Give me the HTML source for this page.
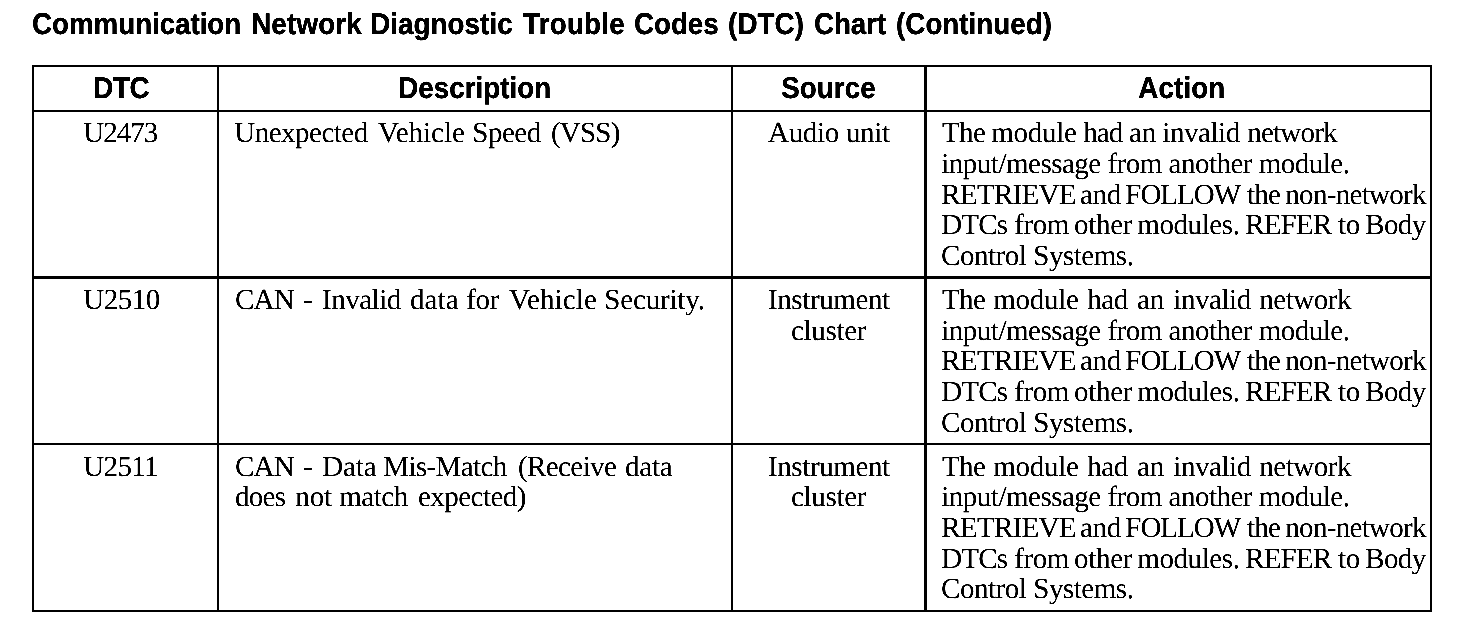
<!DOCTYPE html>
<html><head><meta charset="utf-8"><title>DTC Chart</title><style>html,body{margin:0;padding:0;background:#fff;width:1472px;height:640px;overflow:hidden}svg{display:block;filter:grayscale(1) contrast(3)}</style></head><body>
<svg width="1472" height="640" viewBox="0 0 1472 640">
<rect width="1472" height="640" fill="#fff"/>
<style>text{white-space:pre;fill:#000;text-rendering:geometricPrecision}.sa{font-family:"Liberation Sans",sans-serif;font-weight:bold;stroke:#000;stroke-width:0.35}.se{font-family:"Liberation Serif",serif;stroke:#000;stroke-width:0.12}</style>
<rect x="32" y="65" width="1400" height="2" fill="#000"/>
<rect x="32" y="110" width="1400" height="2" fill="#000"/>
<rect x="32" y="276" width="1400" height="3" fill="#000"/>
<rect x="32" y="443" width="1400" height="2" fill="#000"/>
<rect x="32" y="610" width="1400" height="2" fill="#000"/>
<rect x="32" y="65" width="2" height="547" fill="#000"/>
<rect x="217" y="65" width="2" height="547" fill="#000"/>
<rect x="731" y="65" width="2" height="547" fill="#000"/>
<rect x="924" y="65" width="3" height="547" fill="#000"/>
<rect x="1430" y="65" width="2" height="547" fill="#000"/>
<text class="sa" x="0" y="0" transform="translate(32.08,34) scale(0.925,1.0)" font-size="30" letter-spacing="-0.047">Communication</text>
<text class="sa" x="0" y="0" transform="translate(251.15,34) scale(0.925,1.0)" font-size="30" letter-spacing="0.194">Network</text>
<text class="sa" x="0" y="0" transform="translate(370.15,34) scale(0.925,1.0)" font-size="30" letter-spacing="0.076">Diagnostic</text>
<text class="sa" x="0" y="0" transform="translate(523.00,34) scale(0.925,1.0)" font-size="30" letter-spacing="0.256">Trouble</text>
<text class="sa" x="0" y="0" transform="translate(634.08,34) scale(0.925,1.0)" font-size="30" letter-spacing="-0.068">Codes</text>
<text class="sa" x="0" y="0" transform="translate(728.08,34) scale(0.925,1.0)" font-size="30" letter-spacing="0.089">(DTC)</text>
<text class="sa" x="0" y="0" transform="translate(814.08,34) scale(0.925,1.0)" font-size="30" letter-spacing="-0.148">Chart</text>
<text class="sa" x="0" y="0" transform="translate(896.08,34) scale(0.925,1.0)" font-size="30" letter-spacing="0.020">(Continued)</text>
<text class="sa" x="0" y="0" transform="translate(93.15,98) scale(0.925,1.0)" font-size="30" letter-spacing="-0.306">DTC</text>
<text class="sa" x="0" y="0" transform="translate(398.15,98) scale(0.925,1.0)" font-size="30" letter-spacing="0.046">Description</text>
<text class="sa" x="0" y="0" transform="translate(781.30,98) scale(0.925,1.0)" font-size="30" letter-spacing="0.056">Source</text>
<text class="sa" x="0" y="0" transform="translate(1138.30,98) scale(0.925,1.0)" font-size="30" letter-spacing="0.130">Action</text>
<text class="se" x="83.30" y="142" font-size="29" letter-spacing="-1.011">U2473</text>
<text class="se" x="234.30" y="142" font-size="29" letter-spacing="-0.510">Unexpected</text>
<text class="se" x="378.00" y="142" font-size="29" letter-spacing="-0.014">Vehicle</text>
<text class="se" x="472.30" y="142" font-size="29" letter-spacing="-0.493">Speed</text>
<text class="se" x="551.00" y="142" font-size="29" letter-spacing="-0.789">(VSS)</text>
<text class="se" x="768.00" y="142" font-size="29" letter-spacing="-0.312">Audio unit</text>
<text class="se" x="942.00" y="142" font-size="29" letter-spacing="-0.607">The</text>
<text class="se" x="991.30" y="142" font-size="29" letter-spacing="-0.283">module</text>
<text class="se" x="1083.30" y="142" font-size="29" letter-spacing="-0.986">had</text>
<text class="se" x="1129.00" y="142" font-size="29" letter-spacing="-0.172">an</text>
<text class="se" x="1162.30" y="142" font-size="29" letter-spacing="-0.440">invalid</text>
<text class="se" x="1247.30" y="142" font-size="29" letter-spacing="-0.805">network</text>
<text class="se" x="941.30" y="173" font-size="29" letter-spacing="-0.502">input/message from another module.</text>
<text class="se" x="941.30" y="204" font-size="29" letter-spacing="-0.718">RETRIEVE</text>
<text class="se" x="1080.00" y="204" font-size="29" letter-spacing="-0.336">and</text>
<text class="se" x="1125.30" y="204" font-size="29" letter-spacing="-1.009">FOLLOW</text>
<text class="se" x="1247.00" y="204" font-size="29" letter-spacing="-0.779">the</text>
<text class="se" x="1285.30" y="204" font-size="29" letter-spacing="-0.699">non-network</text>
<text class="se" x="941.30" y="234" font-size="29" letter-spacing="-0.867">DTCs</text>
<text class="se" x="1014.30" y="234" font-size="29" letter-spacing="-0.471">from</text>
<text class="se" x="1074.00" y="234" font-size="29" letter-spacing="-0.307">other</text>
<text class="se" x="1137.30" y="234" font-size="29" letter-spacing="-0.410">modules.</text>
<text class="se" x="1245.30" y="234" font-size="29" letter-spacing="-0.875">REFER</text>
<text class="se" x="1338.00" y="234" font-size="29" letter-spacing="-0.357">to</text>
<text class="se" x="1365.30" y="234" font-size="29" letter-spacing="-0.648">Body</text>
<text class="se" x="941.00" y="265" font-size="29" letter-spacing="-0.457">Control Systems.</text>
<text class="se" x="83.30" y="309" font-size="29" letter-spacing="-0.511">U2510</text>
<text class="se" x="235.00" y="309" font-size="29" letter-spacing="-0.793">CAN</text>
<text class="se" x="303.00" y="309" font-size="29" letter-spacing="0.000">-</text>
<text class="se" x="322.00" y="309" font-size="29" letter-spacing="-0.491">Invalid</text>
<text class="se" x="410.00" y="309" font-size="29" letter-spacing="0.090">data</text>
<text class="se" x="466.30" y="309" font-size="29" letter-spacing="-0.379">for</text>
<text class="se" x="509.00" y="309" font-size="29" letter-spacing="0.152">Vehicle</text>
<text class="se" x="604.30" y="309" font-size="29" letter-spacing="-0.170">Security.</text>
<text class="se" x="768.00" y="309" font-size="29" letter-spacing="-0.398">Instrument</text>
<text class="se" x="791.00" y="340" font-size="29" letter-spacing="-0.324">cluster</text>
<text class="se" x="942.00" y="309" font-size="29" letter-spacing="-0.607">The</text>
<text class="se" x="993.30" y="309" font-size="29" letter-spacing="-0.283">module</text>
<text class="se" x="1087.30" y="309" font-size="29" letter-spacing="-0.486">had</text>
<text class="se" x="1137.00" y="309" font-size="29" letter-spacing="-0.172">an</text>
<text class="se" x="1173.30" y="309" font-size="29" letter-spacing="-0.440">invalid</text>
<text class="se" x="1259.30" y="309" font-size="29" letter-spacing="-0.471">network</text>
<text class="se" x="941.30" y="340" font-size="29" letter-spacing="-0.502">input/message from another module.</text>
<text class="se" x="941.30" y="370" font-size="29" letter-spacing="-0.718">RETRIEVE</text>
<text class="se" x="1080.00" y="370" font-size="29" letter-spacing="-0.336">and</text>
<text class="se" x="1125.30" y="370" font-size="29" letter-spacing="-1.009">FOLLOW</text>
<text class="se" x="1247.00" y="370" font-size="29" letter-spacing="-0.779">the</text>
<text class="se" x="1285.30" y="370" font-size="29" letter-spacing="-0.699">non-network</text>
<text class="se" x="941.30" y="401" font-size="29" letter-spacing="-0.867">DTCs</text>
<text class="se" x="1014.30" y="401" font-size="29" letter-spacing="-0.471">from</text>
<text class="se" x="1074.00" y="401" font-size="29" letter-spacing="-0.307">other</text>
<text class="se" x="1137.30" y="401" font-size="29" letter-spacing="-0.410">modules.</text>
<text class="se" x="1245.30" y="401" font-size="29" letter-spacing="-0.875">REFER</text>
<text class="se" x="1338.00" y="401" font-size="29" letter-spacing="-0.357">to</text>
<text class="se" x="1365.30" y="401" font-size="29" letter-spacing="-0.648">Body</text>
<text class="se" x="941.00" y="432" font-size="29" letter-spacing="-0.457">Control Systems.</text>
<text class="se" x="83.30" y="476" font-size="29" letter-spacing="-0.667">U2511</text>
<text class="se" x="235.00" y="476" font-size="29" letter-spacing="-0.793">CAN</text>
<text class="se" x="303.00" y="476" font-size="29" letter-spacing="0.000">-</text>
<text class="se" x="322.30" y="476" font-size="29" letter-spacing="-0.157">Data</text>
<text class="se" x="383.30" y="476" font-size="29" letter-spacing="-0.621">Mis-Match</text>
<text class="se" x="518.00" y="476" font-size="29" letter-spacing="-0.596">(Receive</text>
<text class="se" x="625.00" y="476" font-size="29" letter-spacing="-0.243">data</text>
<text class="se" x="235.00" y="506" font-size="29" letter-spacing="-0.724">does</text>
<text class="se" x="295.30" y="506" font-size="29" letter-spacing="-0.150">not</text>
<text class="se" x="339.30" y="506" font-size="29" letter-spacing="-0.489">match</text>
<text class="se" x="418.00" y="506" font-size="29" letter-spacing="-0.543">expected)</text>
<text class="se" x="768.00" y="476" font-size="29" letter-spacing="-0.398">Instrument</text>
<text class="se" x="791.00" y="506" font-size="29" letter-spacing="-0.324">cluster</text>
<text class="se" x="942.00" y="476" font-size="29" letter-spacing="-0.607">The</text>
<text class="se" x="993.30" y="476" font-size="29" letter-spacing="-0.283">module</text>
<text class="se" x="1087.30" y="476" font-size="29" letter-spacing="-0.486">had</text>
<text class="se" x="1137.00" y="476" font-size="29" letter-spacing="-0.172">an</text>
<text class="se" x="1173.30" y="476" font-size="29" letter-spacing="-0.440">invalid</text>
<text class="se" x="1259.30" y="476" font-size="29" letter-spacing="-0.471">network</text>
<text class="se" x="941.30" y="506" font-size="29" letter-spacing="-0.502">input/message from another module.</text>
<text class="se" x="941.30" y="537" font-size="29" letter-spacing="-0.718">RETRIEVE</text>
<text class="se" x="1080.00" y="537" font-size="29" letter-spacing="-0.336">and</text>
<text class="se" x="1125.30" y="537" font-size="29" letter-spacing="-1.009">FOLLOW</text>
<text class="se" x="1247.00" y="537" font-size="29" letter-spacing="-0.779">the</text>
<text class="se" x="1285.30" y="537" font-size="29" letter-spacing="-0.699">non-network</text>
<text class="se" x="941.30" y="568" font-size="29" letter-spacing="-0.867">DTCs</text>
<text class="se" x="1014.30" y="568" font-size="29" letter-spacing="-0.471">from</text>
<text class="se" x="1074.00" y="568" font-size="29" letter-spacing="-0.307">other</text>
<text class="se" x="1137.30" y="568" font-size="29" letter-spacing="-0.410">modules.</text>
<text class="se" x="1245.30" y="568" font-size="29" letter-spacing="-0.875">REFER</text>
<text class="se" x="1338.00" y="568" font-size="29" letter-spacing="-0.357">to</text>
<text class="se" x="1365.30" y="568" font-size="29" letter-spacing="-0.648">Body</text>
<text class="se" x="941.00" y="598" font-size="29" letter-spacing="-0.457">Control Systems.</text>
</svg>
</body></html>
